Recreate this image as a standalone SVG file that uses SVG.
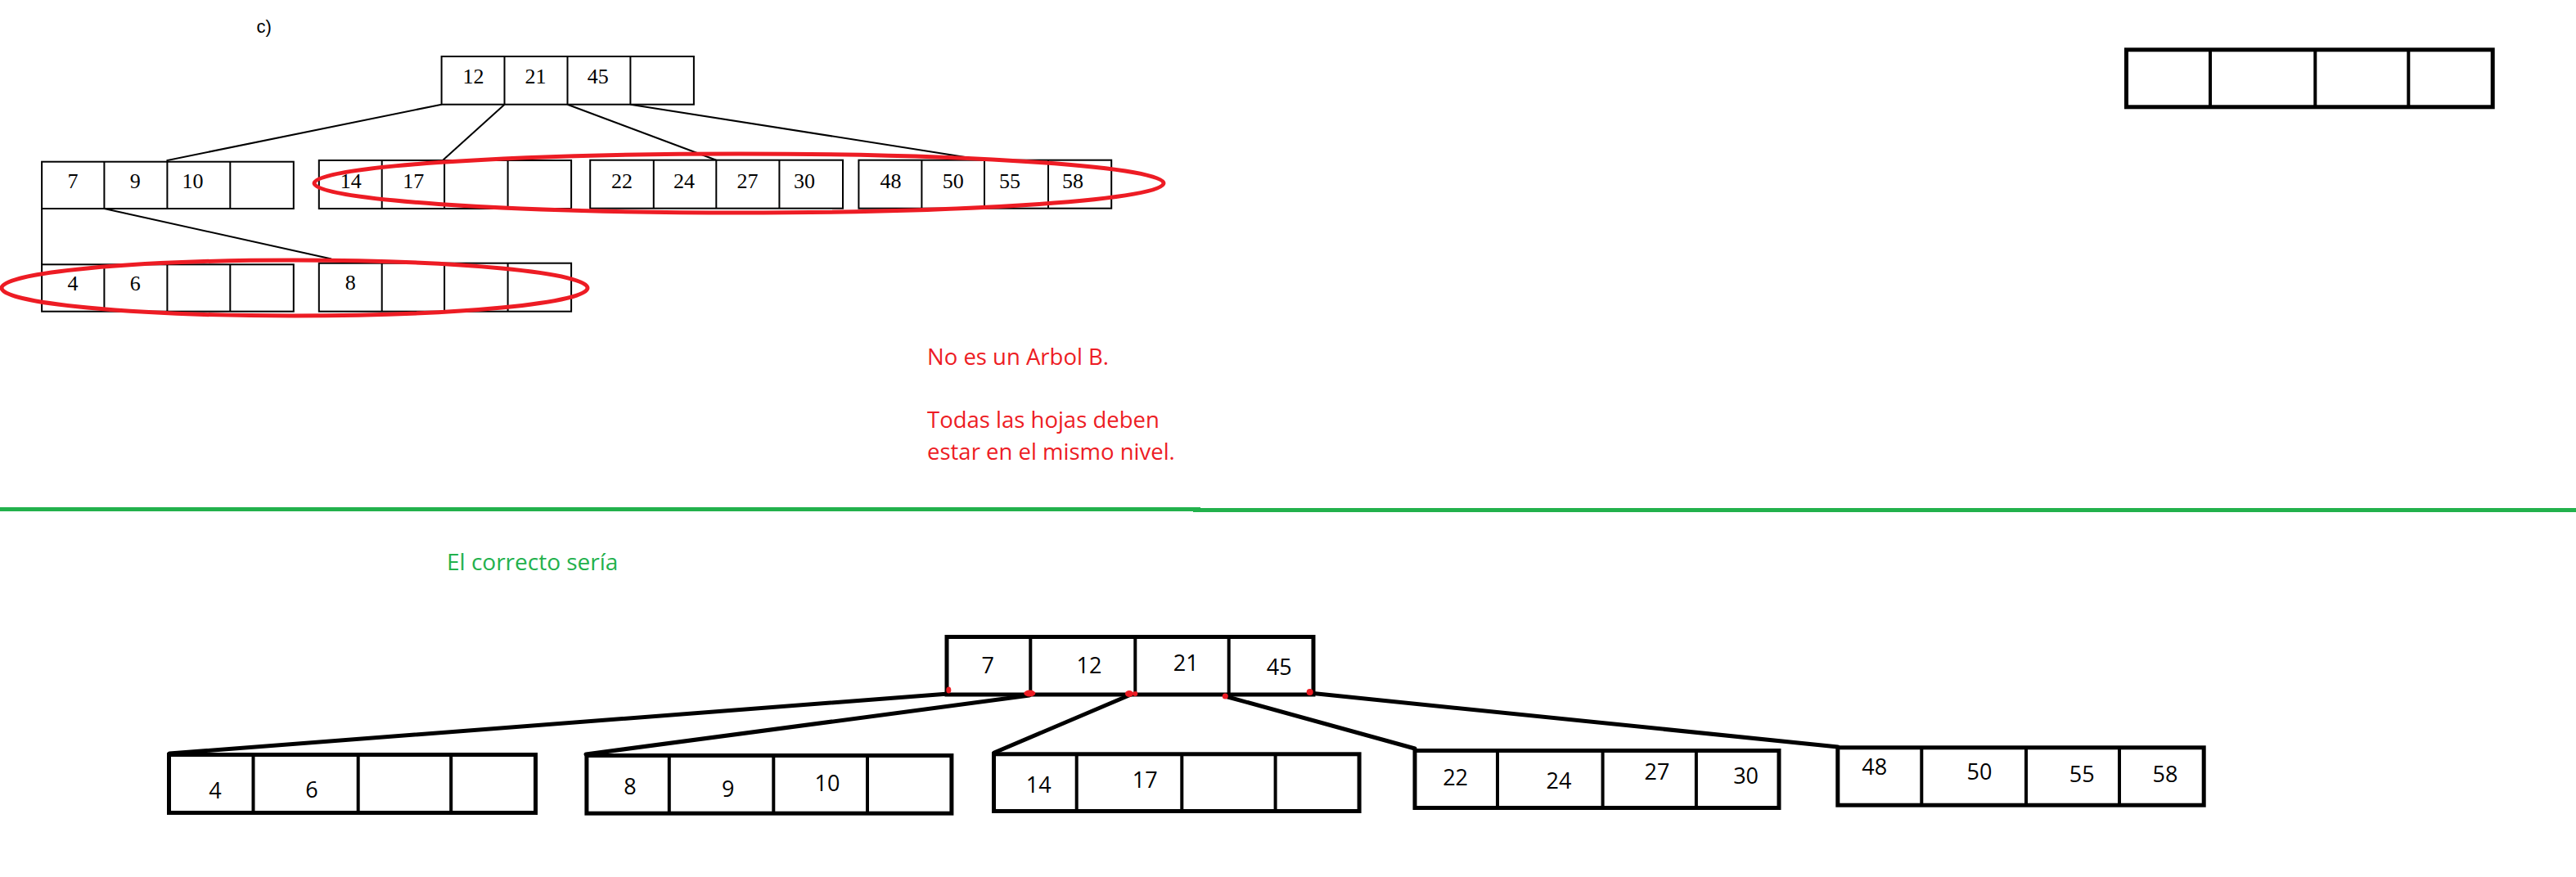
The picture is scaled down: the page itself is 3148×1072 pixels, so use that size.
<svg xmlns="http://www.w3.org/2000/svg" width="3148" height="1072" viewBox="0 0 3148 1072">
<style>
.bg{fill:#fff}
.tb{fill:#fff;stroke:#000;stroke-width:2}
.td{stroke:#000;stroke-width:2;fill:none}
.tl{stroke:#000;stroke-width:2;fill:none}
.tt{font-family:"Liberation Serif","Times New Roman",serif;font-size:26px;fill:#000;text-anchor:middle}
.bb{fill:#fff;stroke:#000;stroke-width:5}
.bd{stroke:#000;stroke-width:4;fill:none}
.bl{stroke:#000;stroke-width:5;fill:none;stroke-linecap:round}
.bt{font-family:"Open Sans","Noto Sans",sans-serif;font-size:27px;fill:#000;text-anchor:middle}
.ell{fill:none;stroke:#ED1C24;stroke-width:5}
.red{font-family:"Open Sans","Noto Sans",sans-serif;font-size:27.5px;fill:#ED1C24}
.grn{font-family:"Open Sans","Noto Sans",sans-serif;font-size:28px;fill:#22B14C}
.dot{fill:#ED1C24}
</style>
<rect class="bg" x="0" y="0" width="3148" height="1072"/>

<text x="313.5" y="40" style="font-family:'Liberation Sans',Arial,sans-serif;font-size:22px;fill:#000">c)</text>

<g id="connectors-top">
  <polyline class="tl" points="539.6,127.7 204.4,196 204.4,197.7"/>
  <line class="tl" x1="616.5" y1="127.7" x2="541" y2="196"/>
  <line class="tl" x1="693.5" y1="127.7" x2="875.3" y2="195.7"/>
  <line class="tl" x1="770.4" y1="127.7" x2="1203" y2="195.7"/>
  <line class="tl" x1="127.4" y1="255" x2="405" y2="316.5"/>
  <line class="tl" x1="51.1" y1="255" x2="51.1" y2="323.3"/>
</g>

<g id="t-root">
  <rect class="tb" x="539.6" y="69" width="308.3" height="58.7"/>
  <path class="td" d="M616.5 69V127.7M693.5 69V127.7M770.4 69V127.7"/>
  <text class="tt" x="578.6" y="102">12</text>
  <text class="tt" x="654.4" y="102">21</text>
  <text class="tt" x="730.8" y="102">45</text>
</g>
<g id="t-a">
  <rect class="tb" x="51.1" y="197.7" width="307.7" height="57.3"/>
  <path class="td" d="M127.4 197.7V255M204.4 197.7V255M281.3 197.7V255"/>
  <text class="tt" x="89" y="230">7</text>
  <text class="tt" x="165.3" y="230">9</text>
  <text class="tt" x="235.4" y="230">10</text>
</g>
<g id="t-b">
  <rect class="tb" x="389.8" y="196" width="308.3" height="59"/>
  <path class="td" d="M466.7 196V255M543.1 196V255M620.6 196V255"/>
  <text class="tt" x="428.8" y="230">14</text>
  <text class="tt" x="505.2" y="230">17</text>
</g>
<g id="t-c">
  <rect class="tb" x="721.2" y="195.7" width="308.8" height="59"/>
  <path class="td" d="M798.8 195.7V254.7M875.3 195.7V254.7M952.4 195.7V254.7"/>
  <text class="tt" x="760" y="229.5">22</text>
  <text class="tt" x="836" y="229.5">24</text>
  <text class="tt" x="913.6" y="229.5">27</text>
  <text class="tt" x="983" y="229.5">30</text>
</g>
<g id="t-d">
  <rect class="tb" x="1049.4" y="195.7" width="308.8" height="59"/>
  <path class="td" d="M1126.4 195.7V254.7M1203 195.7V254.7M1281 195.7V254.7"/>
  <text class="tt" x="1088.6" y="229.5">48</text>
  <text class="tt" x="1164.7" y="229.5">50</text>
  <text class="tt" x="1234" y="229.5">55</text>
  <text class="tt" x="1311" y="229.5">58</text>
</g>
<g id="t-e">
  <rect class="tb" x="51.1" y="323.3" width="307.7" height="57.4"/>
  <path class="td" d="M127.4 323.3V380.7M204.4 323.3V380.7M281.3 323.3V380.7"/>
  <text class="tt" x="89" y="355">4</text>
  <text class="tt" x="165.3" y="355">6</text>
</g>
<g id="t-f">
  <rect class="tb" x="389.8" y="321.7" width="308.3" height="59"/>
  <path class="td" d="M466.7 321.7V380.7M543.1 321.7V380.7M620.6 321.7V380.7"/>
  <text class="tt" x="428.3" y="354">8</text>
</g>

<g id="ellipses">
  <ellipse class="ell" cx="903" cy="224" rx="519" ry="36"/>
  <ellipse class="ell" cx="360" cy="352" rx="358" ry="34"/>
</g>

<g id="empty-box">
  <rect class="bb" x="2598.5" y="60.8" width="447.7" height="70"/>
  <path class="bd" d="M2701 60.8V130.8M2829.3 60.8V130.8M2943.3 60.8V130.8"/>
</g>

<g id="note-red">
  <text class="red" x="1133" y="445.7">No es un Arbol B.</text>
  <text class="red" x="1133" y="523.3">Todas las hojas deben</text>
  <text class="red" x="1133" y="562.3">estar en el mismo nivel.</text>
</g>

<g id="separator">
  <line x1="0" y1="622.5" x2="1467" y2="622.5" stroke="#22B14C" stroke-width="5"/>
  <line x1="1458" y1="623.5" x2="3148" y2="623.5" stroke="#22B14C" stroke-width="5"/>
</g>

<text class="grn" x="546" y="696.7">El correcto sería</text>

<g id="connectors-bottom">
  <line class="bl" x1="1159" y1="848" x2="207" y2="921"/>
  <line class="bl" x1="1258" y1="850" x2="716" y2="922"/>
  <line class="bl" x1="1382" y1="849" x2="1215" y2="920"/>
  <line class="bl" x1="1497" y1="851" x2="1729" y2="915"/>
  <line class="bl" x1="1600" y1="847" x2="2246" y2="913"/>
</g>

<g id="b-root">
  <rect class="bb" x="1157" y="778.5" width="448" height="70.5"/>
  <path class="bd" d="M1259.3 778.5V849M1387.3 778.5V849M1501.7 778.5V849"/>
  <text class="bt" x="1207.3" y="823.3">7</text>
  <text class="bt" x="1331" y="823.3">12</text>
  <text class="bt" x="1449.3" y="820">21</text>
  <text class="bt" x="1563.3" y="825">45</text>
</g>
<g id="red-dots">
  <ellipse class="dot" cx="1159.3" cy="843.5" rx="3" ry="4"/>
  <ellipse class="dot" cx="1258.3" cy="847.5" rx="7" ry="4"/>
  <ellipse class="dot" cx="1380" cy="848" rx="5" ry="4"/>
  <circle class="dot" cx="1387.3" cy="848" r="3"/>
  <circle class="dot" cx="1497.3" cy="851" r="3.5"/>
  <circle class="dot" cx="1600.7" cy="846" r="4"/>
</g>
<g id="b-n1">
  <rect class="bb" x="206.5" y="922.5" width="448" height="71"/>
  <path class="bd" d="M309.5 922.5V993.5M437.7 922.5V993.5M551.2 922.5V993.5"/>
  <text class="bt" x="263" y="976">4</text>
  <text class="bt" x="381" y="975">6</text>
</g>
<g id="b-n2">
  <rect class="bb" x="716.9" y="923.5" width="446" height="70.7"/>
  <path class="bd" d="M817.8 923.5V994.2M945.3 923.5V994.2M1060 923.5V994.2"/>
  <text class="bt" x="770" y="970.7">8</text>
  <text class="bt" x="889.8" y="974">9</text>
  <text class="bt" x="1011" y="966.7">10</text>
</g>
<g id="b-n3">
  <rect class="bb" x="1214.5" y="921.8" width="446.6" height="69.7"/>
  <path class="bd" d="M1315.7 921.8V991.5M1444.3 921.8V991.5M1558.6 921.8V991.5"/>
  <text class="bt" x="1269.3" y="969.3">14</text>
  <text class="bt" x="1399.3" y="962.7">17</text>
</g>
<g id="b-n4">
  <rect class="bb" x="1729" y="917.5" width="445" height="70"/>
  <path class="bd" d="M1830 917.5V987.5M1958.6 917.5V987.5M2072.9 917.5V987.5"/>
  <text class="bt" x="1778.6" y="960">22</text>
  <text class="bt" x="1905" y="964">24</text>
  <text class="bt" x="2025" y="953.3">27</text>
  <text class="bt" x="2133.6" y="958.3">30</text>
</g>
<g id="b-n5">
  <rect class="bb" x="2245.8" y="913.8" width="447.4" height="70.4"/>
  <path class="bd" d="M2348.3 913.8V984.2M2476 913.8V984.2M2590 913.8V984.2"/>
  <text class="bt" x="2290.7" y="946.7">48</text>
  <text class="bt" x="2419" y="952.7">50</text>
  <text class="bt" x="2544.3" y="956">55</text>
  <text class="bt" x="2646" y="956">58</text>
</g>
</svg>
